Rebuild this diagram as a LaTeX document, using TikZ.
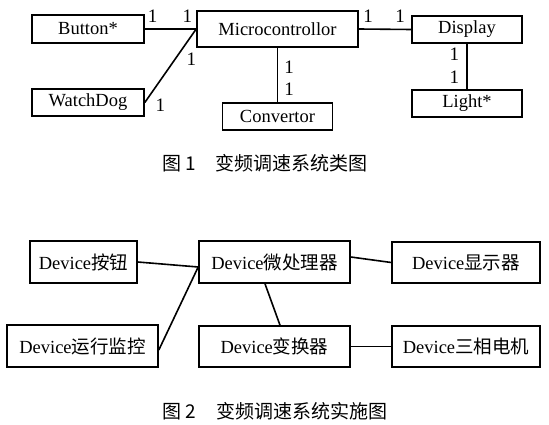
\documentclass[tikz,border=0pt]{standalone}
\usepackage{fontspec}
\setmainfont{Liberation Serif}
\newfontfamily\cjk{Noto Sans CJK SC}
\usepackage{tikz}
\usetikzlibrary{positioning}

\newcommand{\dev}[1]{Device{\cjk #1}}

\begin{document}
\begin{tikzpicture}[
      x=1pt, y=-1pt,
      line width=1.6pt,
      every node/.style={font=\fontsize{18.5}{20}\selectfont},
      classbox/.style={rectangle, draw, inner sep=0pt, minimum width=110pt, minimum height=27pt},
      devbox/.style={rectangle, draw, inner sep=0pt, minimum width=151pt, minimum height=42pt},
      mult/.style={inner sep=0pt, font=\fontsize{19}{19}\selectfont},
      caption/.style={inner sep=0pt, font=\cjk\fontsize{19}{20}\selectfont}
    ]
    \useasboundingbox (0,0) rectangle (549,425);

    % Fig. 1: class diagram
    \node[classbox, minimum width=112pt, minimum height=28pt] (btn) at (88,29) {Button*};
    \node[classbox, minimum width=112pt] (wdog) at (88,102.5) {WatchDog};
    \node[classbox, minimum width=161pt, minimum height=36pt] (mcu) at (277.5,29) {Microcontrollor};
    \node[classbox] (conv) at (277.5,116.5) {Convertor};
    \node[classbox] (disp) at (467,29.5) {Display};
    \node[classbox] (light) at (467,103.5) {Light*};

    \draw (btn.east) -- node[mult, pos=0.15, above=6pt] {1}
                        node[mult, pos=0.83, above=6pt] {1} (mcu.west);
    \draw (wdog.east) -- node[mult, pos=0, right=10pt, yshift=-2.5pt] {1}
                         node[mult, pos=0.585, right=11pt] {1} (mcu.west);
    \draw (mcu.south) -- node[mult, pos=0.35, right=6pt] {1}
                         node[mult, pos=0.77, right=6pt] {1} (conv.north);
    \draw (mcu.east) -- node[mult, pos=0.18, above=6pt] {1}
                        node[mult, pos=0.79, above=6pt] {1} (disp.west);
    \draw (disp.south) -- node[mult, pos=0.23, left=7pt] {1}
                          node[mult, pos=0.73, left=7pt] {1} (light.north);

    \node[caption] (cap1) at (265,163) {图 1\hspace{20pt}变频调速系统类图};

    % Fig. 2: deployment diagram
    \node[devbox, minimum width=107pt] (key) at (83.5,262) {\dev{按钮}};
    \node[devbox] (mon) at (82.5,346) {\dev{运行监控}};
    \node[devbox] (cpu) at (274.5,262) {\dev{微处理器}};
    \node[devbox, minimum height=41pt] (cvt) at (274.5,346.5) {\dev{变换器}};
    \node[devbox, minimum width=148pt, minimum height=41pt] (show) at (466,262.5) {\dev{显示器}};
    \node[devbox, minimum width=148pt, minimum height=41pt] (motor) at (466,346.5) {\dev{三相电机}};

    \draw (key.east) -- ([yshift=-5pt]cpu.west);
    \draw ([yshift=-4pt]mon.east) -- ([yshift=-5pt]cpu.west);
    \draw ([xshift=-9.5pt]cpu.south) -- ([xshift=5.5pt]cvt.north);
    \draw ([yshift=5pt]cpu.east) -- (show.west);
    \draw (cvt.east) -- (motor.west);

    \node[caption] (cap2) at (275,411.5) {图 2\hspace{20pt}变频调速系统实施图};
\end{tikzpicture}
\end{document}
